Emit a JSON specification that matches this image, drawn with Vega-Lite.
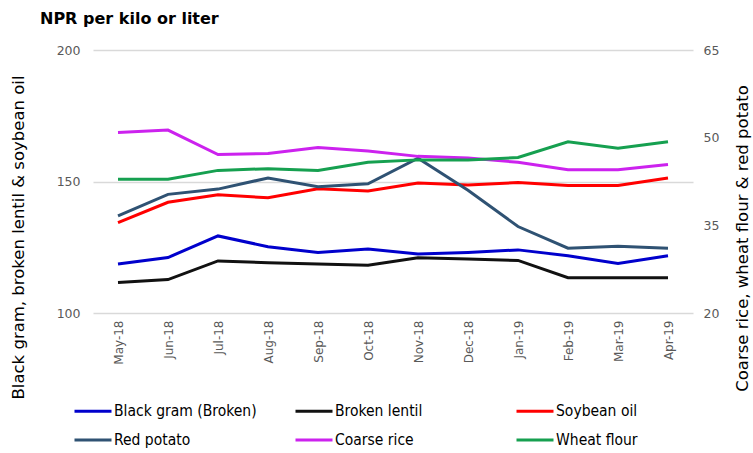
{
  "$schema": "https://vega.github.io/schema/vega-lite/v6.json",
  "autosize": {"type": "none"},
  "width": 600,
  "height": 263,
  "padding": {"left": 93, "top": 50, "right": 60, "bottom": 140},
  "title": {
    "text": "NPR per kilo or liter",
    "anchor": "start",
    "frame": "group",
    "dx": -53,
    "offset": 17,
    "font": "DejaVu Sans",
    "fontSize": 16,
    "fontWeight": "bold",
    "color": "#000000"
  },
  "config": {
    "view": {"stroke": null},
    "font": "DejaVu Sans"
  },
  "datasets": {
    "left": [
      {"month": "May-18", "series": "Black gram (Broken)", "value": 118.6},
      {"month": "Jun-18", "series": "Black gram (Broken)", "value": 121.1},
      {"month": "Jul-18", "series": "Black gram (Broken)", "value": 129.3},
      {"month": "Aug-18", "series": "Black gram (Broken)", "value": 125.2},
      {"month": "Sep-18", "series": "Black gram (Broken)", "value": 123.0},
      {"month": "Oct-18", "series": "Black gram (Broken)", "value": 124.3},
      {"month": "Nov-18", "series": "Black gram (Broken)", "value": 122.4},
      {"month": "Dec-18", "series": "Black gram (Broken)", "value": 123.0},
      {"month": "Jan-19", "series": "Black gram (Broken)", "value": 124.0},
      {"month": "Feb-19", "series": "Black gram (Broken)", "value": 121.8},
      {"month": "Mar-19", "series": "Black gram (Broken)", "value": 118.8},
      {"month": "Apr-19", "series": "Black gram (Broken)", "value": 121.8},
      {"month": "May-18", "series": "Broken lentil", "value": 111.6},
      {"month": "Jun-18", "series": "Broken lentil", "value": 112.7},
      {"month": "Jul-18", "series": "Broken lentil", "value": 119.8},
      {"month": "Aug-18", "series": "Broken lentil", "value": 119.1},
      {"month": "Sep-18", "series": "Broken lentil", "value": 118.6},
      {"month": "Oct-18", "series": "Broken lentil", "value": 118.2},
      {"month": "Nov-18", "series": "Broken lentil", "value": 121.0},
      {"month": "Dec-18", "series": "Broken lentil", "value": 120.5},
      {"month": "Jan-19", "series": "Broken lentil", "value": 120.0},
      {"month": "Feb-19", "series": "Broken lentil", "value": 113.4},
      {"month": "Mar-19", "series": "Broken lentil", "value": 113.4},
      {"month": "Apr-19", "series": "Broken lentil", "value": 113.4},
      {"month": "May-18", "series": "Soybean oil", "value": 134.4},
      {"month": "Jun-18", "series": "Soybean oil", "value": 142.1},
      {"month": "Jul-18", "series": "Soybean oil", "value": 145.0},
      {"month": "Aug-18", "series": "Soybean oil", "value": 143.8},
      {"month": "Sep-18", "series": "Soybean oil", "value": 147.2},
      {"month": "Oct-18", "series": "Soybean oil", "value": 146.4},
      {"month": "Nov-18", "series": "Soybean oil", "value": 149.4},
      {"month": "Dec-18", "series": "Soybean oil", "value": 148.7},
      {"month": "Jan-19", "series": "Soybean oil", "value": 149.6},
      {"month": "Feb-19", "series": "Soybean oil", "value": 148.5},
      {"month": "Mar-19", "series": "Soybean oil", "value": 148.5},
      {"month": "Apr-19", "series": "Soybean oil", "value": 151.3}
    ],
    "right": [
      {"month": "May-18", "series": "Red potato", "value": 36.6},
      {"month": "Jun-18", "series": "Red potato", "value": 40.3},
      {"month": "Jul-18", "series": "Red potato", "value": 41.2},
      {"month": "Aug-18", "series": "Red potato", "value": 43.1},
      {"month": "Sep-18", "series": "Red potato", "value": 41.6},
      {"month": "Oct-18", "series": "Red potato", "value": 42.1},
      {"month": "Nov-18", "series": "Red potato", "value": 46.5},
      {"month": "Dec-18", "series": "Red potato", "value": 41.0},
      {"month": "Jan-19", "series": "Red potato", "value": 34.8},
      {"month": "Feb-19", "series": "Red potato", "value": 31.1},
      {"month": "Mar-19", "series": "Red potato", "value": 31.4},
      {"month": "Apr-19", "series": "Red potato", "value": 31.1},
      {"month": "May-18", "series": "Coarse rice", "value": 50.9},
      {"month": "Jun-18", "series": "Coarse rice", "value": 51.3},
      {"month": "Jul-18", "series": "Coarse rice", "value": 47.1},
      {"month": "Aug-18", "series": "Coarse rice", "value": 47.3},
      {"month": "Sep-18", "series": "Coarse rice", "value": 48.3},
      {"month": "Oct-18", "series": "Coarse rice", "value": 47.7},
      {"month": "Nov-18", "series": "Coarse rice", "value": 46.8},
      {"month": "Dec-18", "series": "Coarse rice", "value": 46.5},
      {"month": "Jan-19", "series": "Coarse rice", "value": 45.8},
      {"month": "Feb-19", "series": "Coarse rice", "value": 44.5},
      {"month": "Mar-19", "series": "Coarse rice", "value": 44.5},
      {"month": "Apr-19", "series": "Coarse rice", "value": 45.4},
      {"month": "May-18", "series": "Wheat flour", "value": 42.9},
      {"month": "Jun-18", "series": "Wheat flour", "value": 42.9},
      {"month": "Jul-18", "series": "Wheat flour", "value": 44.4},
      {"month": "Aug-18", "series": "Wheat flour", "value": 44.7},
      {"month": "Sep-18", "series": "Wheat flour", "value": 44.4},
      {"month": "Oct-18", "series": "Wheat flour", "value": 45.8},
      {"month": "Nov-18", "series": "Wheat flour", "value": 46.2},
      {"month": "Dec-18", "series": "Wheat flour", "value": 46.2},
      {"month": "Jan-19", "series": "Wheat flour", "value": 46.6},
      {"month": "Feb-19", "series": "Wheat flour", "value": 49.3},
      {"month": "Mar-19", "series": "Wheat flour", "value": 48.2},
      {"month": "Apr-19", "series": "Wheat flour", "value": 49.3}
    ]
  },
  "encoding": {
    "x": {
      "field": "month",
      "type": "ordinal",
      "sort": ["May-18","Jun-18","Jul-18","Aug-18","Sep-18","Oct-18","Nov-18","Dec-18","Jan-19","Feb-19","Mar-19","Apr-19"],
      "scale": {"type": "point", "padding": 0.5},
      "axis": {
        "title": null,
        "labelAngle": 270,
        "labelAlign": "right",
        "labelBaseline": "middle",
        "labelPadding": 7,
        "labelFontSize": 12,
        "labelColor": "#595959",
        "ticks": false,
        "domain": false,
        "grid": false
      }
    },
    "color": {
      "field": "series",
      "type": "nominal",
      "scale": {
        "domain": ["Black gram (Broken)", "Broken lentil", "Soybean oil", "Red potato", "Coarse rice", "Wheat flour"],
        "range": ["#0000CC", "#111111", "#FF0000", "#2F5273", "#CC22EE", "#16A050"]
      },
      "legend": {
        "title": null,
        "orient": "none",
        "legendX": -20,
        "legendY": 341,
        "direction": "horizontal",
        "columns": 3,
        "gridAlign": "all",
        "columnPadding": 32,
        "rowPadding": -24,
        "symbolType": "stroke",
        "symbolSize": 1369,
        "symbolStrokeWidth": 3,
        "labelOffset": 1,
        "labelFont": "DejaVu Sans Condensed",
        "labelFontSize": 15.5,
        "labelColor": "#000000",
        "labelLimit": 300
      }
    }
  },
  "layer": [
    {
      "data": {"name": "left"},
      "mark": {"type": "line", "strokeWidth": 3},
      "encoding": {
        "y": {
          "field": "value",
          "type": "quantitative",
          "scale": {"domain": [100, 200], "nice": false, "zero": false},
          "axis": {
            "title": "Black gram, broken lentil & soybean oil",
            "titleAngle": 270,
            "titleX": -75,
            "titleY": 187,
            "titleAlign": "center",
            "titleBaseline": "middle",
            "titleFont": "DejaVu Sans",
            "titleFontSize": 16.5,
            "titleFontWeight": "normal",
            "titleColor": "#000000",
            "values": [100, 150, 200],
            "labelFontSize": 12.5,
            "labelColor": "#595959",
            "labelPadding": 13,
            "ticks": false,
            "domain": false,
            "grid": true,
            "gridColor": "#D9D9D9",
            "gridWidth": 1.5
          }
        }
      }
    },
    {
      "data": {"name": "right"},
      "mark": {"type": "line", "strokeWidth": 3},
      "encoding": {
        "y": {
          "field": "value",
          "type": "quantitative",
          "scale": {"domain": [20, 65], "nice": false, "zero": false},
          "axis": {
            "orient": "right",
            "title": "Coarse rice, wheat flour & red potato",
            "titleAngle": 270,
            "titleX": 49,
            "titleY": 188,
            "titleAlign": "center",
            "titleBaseline": "middle",
            "titleFont": "DejaVu Sans",
            "titleFontSize": 16.5,
            "titleFontWeight": "normal",
            "titleColor": "#000000",
            "values": [20, 35, 50, 65],
            "labelFontSize": 12.5,
            "labelColor": "#595959",
            "labelPadding": 10,
            "ticks": false,
            "domain": false,
            "grid": false
          }
        }
      }
    }
  ],
  "resolve": {"scale": {"y": "independent"}}
}
